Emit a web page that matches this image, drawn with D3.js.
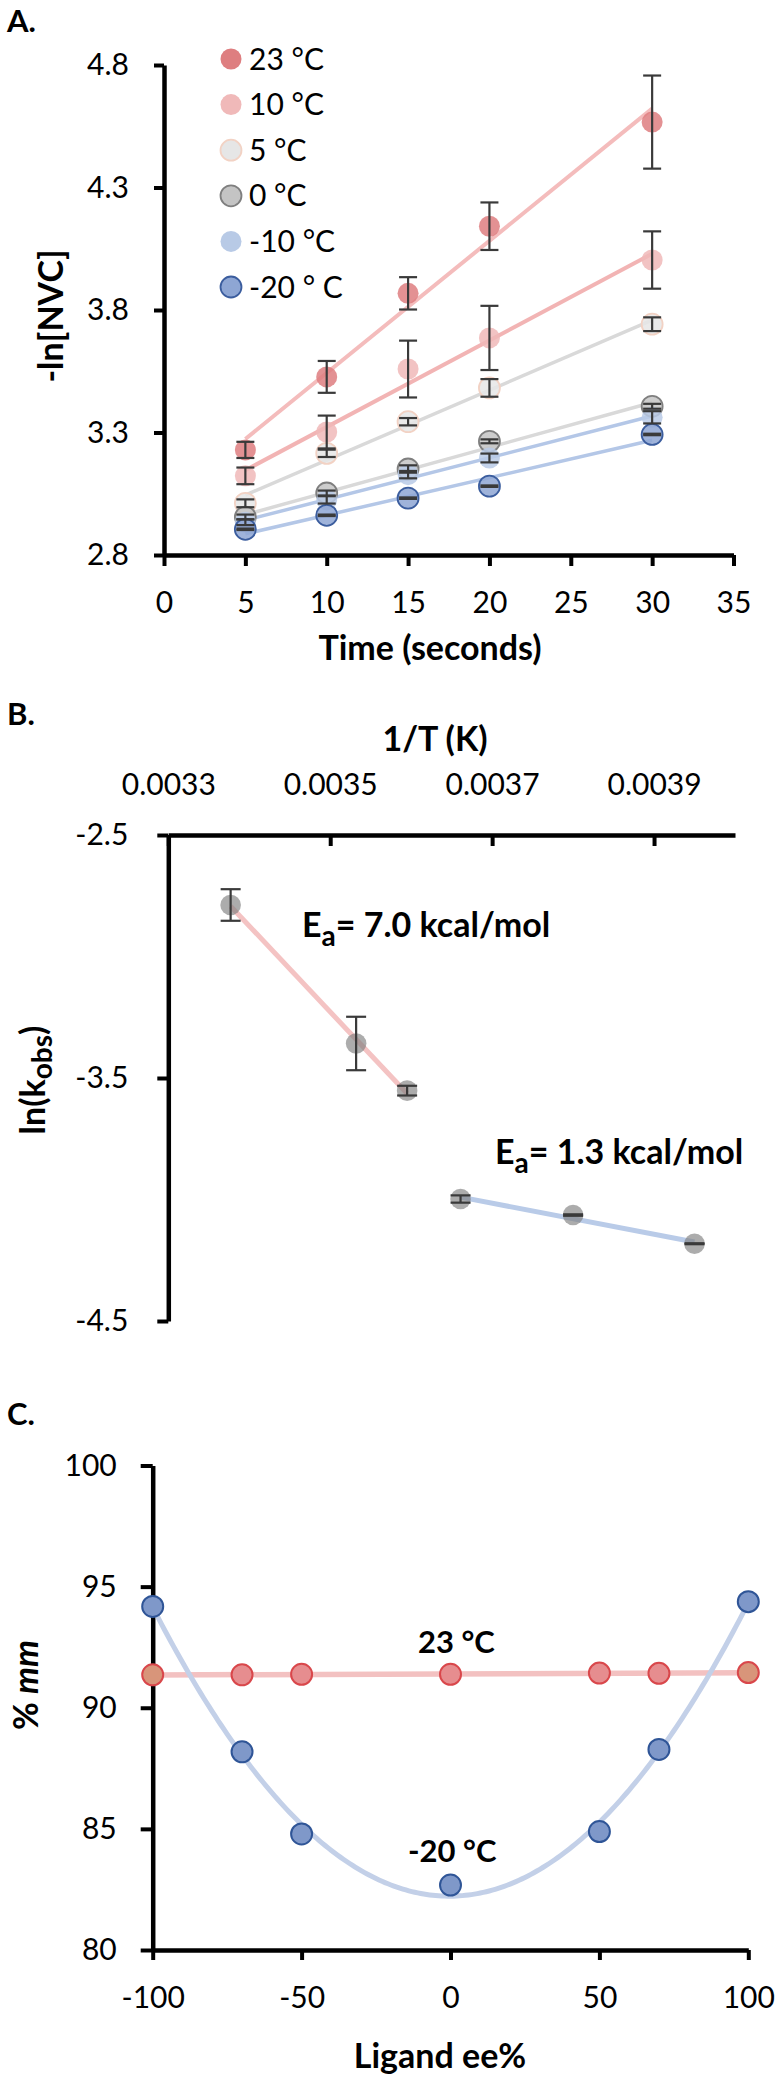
<!DOCTYPE html>
<html>
<head>
<meta charset="utf-8">
<script src="https://cdn.jsdelivr.net/npm/d3@7"></script>
<style>
  body { margin: 0; background: #fff; }
  svg { display: block; font-family: Lato, "Open Sans", sans-serif; }
  .axis text { font-family: Lato, "Open Sans", sans-serif; font-size: 30px; fill: #000; }
  .ttl { font-weight: bold; font-size: 34px; fill: #000; }
</style>
</head>
<body>
<div id="chart"></div>
<script>
// ---------- Panel A : -ln[NVC] vs time ----------
var timeSec = [5, 10, 15, 20, 30];
var legendA = ["23 °C", "10 °C", "5 °C", "0 °C", "-10 °C", "-20 ° C"];
var nvc23 = [3.229, 3.527, 3.868, 4.142, 4.567];
var err23 = [0.033, 0.065, 0.066, 0.097, 0.19];
var nvc10 = [3.123, 3.302, 3.559, 3.686, 4.004];
var err10 = [0.034, 0.067, 0.116, 0.131, 0.117];
var nvc5 = [3.011, 3.215, 3.344, 3.482, 3.742];
var err5 = [0.016, 0.015, 0.015, 0.036, 0.028];
var nvc0 = [2.955, 3.053, 3.151, 3.264, 3.407];
var err0 = [0.010, 0.010, 0.015, 0.008, 0.010];
var nvcM10 = [2.934, 3.025, 3.128, 3.196, 3.362];
var errM10 = [0.012, 0.015, 0.015, 0.018, 0.025];
var nvcM20 = [2.905, 2.962, 3.032, 3.081, 3.292];
var errM20 = [0.003, 0.003, 0.003, 0.003, 0.003];
var ticksAx = [0, 5, 10, 15, 20, 25, 30, 35];
var ticksAy = [2.8, 3.3, 3.8, 4.3, 4.8];

// ---------- Panel B : Arrhenius ----------
var invTHigh = [0.003377, 0.003532, 0.003595];
var lnkHigh = [-2.788, -3.358, -3.552];
var errHigh = [0.065, 0.11, 0.02];
var invTLow = [0.003661, 0.003800, 0.003950];
var lnkLow = [-3.998, -4.064, -4.182];
var errLow = [0.015, 0.003, 0.002];
var ticksBx = [0.0033, 0.0035, 0.0037, 0.0039];
var ticksBy = [-2.5, -3.5, -4.5];

// ---------- Panel C : %mm vs ligand ee ----------
var ligandEE = [-100, -70, -50, 0, 50, 70, 100];
var mm23 = [91.36, 91.36, 91.38, 91.38, 91.43, 91.42, 91.45];
var mmM20 = [94.18, 88.18, 84.79, 82.68, 84.89, 88.28, 94.38];
var ticksCx = [-100, -50, 0, 50, 100];
var ticksCy = [80, 85, 90, 95, 100];

var width = 781, height = 2085;
var svg = d3.select("#chart").append("svg")
    .attr("width", width)
    .attr("height", height);

function styleAxis(g) {
    g.attr("class", "axis").attr("font-family", null).attr("font-size", null);
    g.select(".domain").attr("stroke-width", 4.5);
    g.selectAll(".tick line").attr("stroke-width", 4);
}

function linFit(xs, ys) {
    var mx = d3.mean(xs), my = d3.mean(ys), sxy = 0, sxx = 0;
    xs.forEach(function(x, i) { sxy += (x - mx) * (ys[i] - my); sxx += (x - mx) * (x - mx); });
    var b = sxy / sxx;
    return function(x) { return my + b * (x - mx); };
}

function quadFit(xs, ys) {
    var S = function(k) { return d3.sum(xs, function(x) { return Math.pow(x, k); }); };
    var T = function(k) { return d3.sum(xs.map(function(x, i) { return Math.pow(x, k) * ys[i]; })); };
    var M = [[S(0), S(1), S(2), T(0)], [S(1), S(2), S(3), T(1)], [S(2), S(3), S(4), T(2)]];
    for (var c = 0; c < 3; c++) {
        for (var r = c + 1; r < 3; r++) {
            var f = M[r][c] / M[c][c];
            for (var k = c; k < 4; k++) M[r][k] -= f * M[c][k];
        }
    }
    var co = [0, 0, 0];
    for (var i = 2; i >= 0; i--) {
        var s = M[i][3];
        for (var j = i + 1; j < 3; j++) s -= M[i][j] * co[j];
        co[i] = s / M[i][i];
    }
    return function(x) { return co[0] + co[1] * x + co[2] * x * x; };
}

function errorBars(g, pts, x, y, cap) {
    var eb = g.append("g").attr("stroke", "#3a3a3a").attr("stroke-width", 2.2);
    pts.forEach(function(p) {
        var y0 = y(p.v - p.e), y1 = y(p.v + p.e), cx = x(p.x);
        eb.append("line").attr("x1", cx).attr("x2", cx).attr("y1", y0).attr("y2", y1);
        eb.append("line").attr("x1", cx - cap / 2).attr("x2", cx + cap / 2).attr("y1", y0).attr("y2", y0);
        eb.append("line").attr("x1", cx - cap / 2).attr("x2", cx + cap / 2).attr("y1", y1).attr("y2", y1);
    });
}

// ================= Panel A =================
var xA = d3.scaleLinear().domain([0, 35]).range([164, 733.5]);
var yA = d3.scaleLinear().domain([2.8, 4.8]).range([555, 65]);

var seriesA = [
    {label: legendA[0], y: nvc23, err: err23, fill: "#de7e80", stroke: "none", line: "#f4bcbc", lw: 4},
    {label: legendA[1], y: nvc10, err: err10, fill: "#f0b9b9", stroke: "none", line: "#f2b4b4", lw: 4},
    {label: legendA[2], y: nvc5, err: err5, fill: "#e6e6e6", stroke: "#f2d2c4", line: "#d9d9d9", lw: 3.5},
    {label: legendA[3], y: nvc0, err: err0, fill: "#c4c4c4", stroke: "#7f7f7f", line: "#d9d9d9", lw: 3.5},
    {label: legendA[4], y: nvcM10, err: errM10, fill: "#b8cae6", stroke: "none", line: "#b4c7e7", lw: 3.5},
    {label: legendA[5], y: nvcM20, err: errM20, fill: "#8ea6d4", stroke: "#3b5d9e", line: "#b4c7e7", lw: 3.5}
];

var gA = svg.append("g");

gA.append("g")
    .attr("transform", "translate(0," + yA(2.8) + ")")
    .call(d3.axisBottom(xA).tickValues(ticksAx).tickSizeInner(11).tickSizeOuter(0).tickPadding(26))
    .call(styleAxis);
gA.append("g")
    .attr("transform", "translate(" + xA(0) + ",0)")
    .call(d3.axisLeft(yA).tickValues(ticksAy).tickFormat(function(d) { return d.toFixed(1); })
        .tickSizeInner(10).tickSizeOuter(0).tickPadding(25))
    .call(styleAxis);

// trend lines
seriesA.forEach(function(s) {
    var fit = linFit(timeSec, s.y);
    var x0 = d3.min(timeSec), x1 = d3.max(timeSec);
    gA.append("line")
        .attr("x1", xA(x0)).attr("y1", yA(fit(x0)))
        .attr("x2", xA(x1)).attr("y2", yA(fit(x1)))
        .attr("stroke", s.line).attr("stroke-width", s.lw);
});

// markers
seriesA.forEach(function(s) {
    gA.append("g").selectAll("circle")
        .data(timeSec)
        .enter()
        .append("circle")
        .attr("cx", function(d) { return xA(d); })
        .attr("cy", function(d, i) { return yA(s.y[i]); })
        .attr("r", 10.5)
        .attr("fill", s.fill)
        .attr("fill-opacity", 0.85)
        .attr("stroke", s.stroke)
        .attr("stroke-width", 1.8);
});

seriesA.forEach(function(s) {
    errorBars(gA, timeSec.map(function(t, i) { return {x: t, v: s.y[i], e: s.err[i]}; }), xA, yA, 18);
});

// legend
seriesA.forEach(function(s, i) {
    var ry = 59 + i * 45.6;
    gA.append("circle").attr("cx", 231).attr("cy", ry).attr("r", 10.5)
        .attr("fill", s.fill).attr("stroke", s.stroke).attr("stroke-width", 1.8);
    gA.append("text").attr("x", 249).attr("y", ry + 10.5)
        .style("font-size", "30px").text(s.label);
});

gA.append("text").attr("class", "ttl").attr("x", 7).attr("y", 32).style("font-size", "31px").text("A.");
gA.append("text").attr("class", "ttl").attr("text-anchor", "middle")
    .attr("x", 430).attr("y", 660).text("Time (seconds)");
gA.append("text").attr("class", "ttl").attr("text-anchor", "middle")
    .attr("transform", "translate(63,316) rotate(-90)").text("-ln[NVC]");

// ================= Panel B =================
var xB = d3.scaleLinear().domain([0.0033, 0.0040]).range([168.3, 735]);
var yB = d3.scaleLinear().domain([-4.5, -2.5]).range([1321, 835]);
var gB = svg.append("g");

gB.append("g")
    .attr("transform", "translate(0," + yB(-2.5) + ")")
    .call(d3.axisTop(xB).tickValues(ticksBx).tickFormat(function(d) { return d.toFixed(4); })
        .tickSizeInner(-11).tickSizeOuter(0).tickPadding(40))
    .call(styleAxis);
gB.append("g")
    .attr("transform", "translate(" + xB(0.0033) + ",0)")
    .call(d3.axisLeft(yB).tickValues(ticksBy).tickFormat(function(d) { return d.toFixed(1); })
        .tickSizeInner(11).tickSizeOuter(0).tickPadding(29))
    .call(styleAxis);

var fitHigh = linFit(invTHigh, lnkHigh);
var fitLow = linFit(invTLow, lnkLow);
[[invTHigh, fitHigh, "#f4c3c3"], [invTLow, fitLow, "#b9cbe8"]].forEach(function(f) {
    var x0 = d3.min(f[0]), x1 = d3.max(f[0]);
    gB.append("line")
        .attr("x1", xB(x0)).attr("y1", yB(f[1](x0)))
        .attr("x2", xB(x1)).attr("y2", yB(f[1](x1)))
        .attr("stroke", f[2]).attr("stroke-width", 5);
});

var ptsB = invTHigh.map(function(x, i) { return {x: x, v: lnkHigh[i], e: errHigh[i]}; })
    .concat(invTLow.map(function(x, i) { return {x: x, v: lnkLow[i], e: errLow[i]}; }));

gB.append("g").selectAll("circle")
    .data(ptsB)
    .enter()
    .append("circle")
    .attr("cx", function(d) { return xB(d.x); })
    .attr("cy", function(d) { return yB(d.v); })
    .attr("r", 10.3)
    .attr("fill", "#7f7f7f")
    .attr("fill-opacity", 0.65);
errorBars(gB, ptsB, xB, yB, 20);

function eaLabel(x, y, val) {
    var t = gB.append("text").attr("class", "ttl").attr("x", x).attr("y", y).style("font-size", "34px");
    t.append("tspan").text("E");
    t.append("tspan").attr("dy", 9).style("font-size", "28px").text("a");
    t.append("tspan").attr("dy", -9).text("= " + val + " kcal/mol");
}
eaLabel(302, 937, "7.0");
eaLabel(495, 1164, "1.3");

gB.append("text").attr("class", "ttl").attr("x", 7).attr("y", 725).style("font-size", "31px").text("B.");
gB.append("text").attr("class", "ttl").attr("text-anchor", "middle")
    .attr("x", 435).attr("y", 751).text("1/T (K)");
var ylB = gB.append("text").attr("class", "ttl").attr("text-anchor", "middle")
    .attr("transform", "translate(45,1080) rotate(-90)");
ylB.append("tspan").text("ln(k");
ylB.append("tspan").attr("dy", 7).style("font-size", "28px").text("obs");
ylB.append("tspan").attr("dy", -7).text(")");

// ================= Panel C =================
var xC = d3.scaleLinear().domain([-100, 100]).range([152.7, 748.3]);
var yC = d3.scaleLinear().domain([80, 100]).range([1950, 1465.5]);
var gC = svg.append("g");

gC.append("g")
    .attr("transform", "translate(0," + yC(80) + ")")
    .call(d3.axisBottom(xC).tickValues(ticksCx).tickFormat(function(d) { return String(d); })
        .tickSizeInner(10).tickSizeOuter(0).tickPadding(27))
    .call(styleAxis);
gC.append("g")
    .attr("transform", "translate(" + xC(-100) + ",0)")
    .call(d3.axisLeft(yC).tickValues(ticksCy).tickSizeInner(12).tickSizeOuter(0).tickPadding(24))
    .call(styleAxis);

var fit23 = linFit(ligandEE, mm23);
gC.append("line")
    .attr("x1", xC(-100)).attr("y1", yC(fit23(-100)))
    .attr("x2", xC(100)).attr("y2", yC(fit23(100)))
    .attr("stroke", "#f3c1c1").attr("stroke-width", 5.5);

var fitM20 = quadFit(ligandEE, mmM20);
var curve = d3.range(-100, 100.5, 1);
gC.append("path")
    .datum(curve)
    .attr("fill", "none")
    .attr("stroke", "#c3d0e8")
    .attr("stroke-width", 5)
    .attr("d", d3.line().x(function(d) { return xC(d); }).y(function(d) { return yC(fitM20(d)); }));

gC.append("g").selectAll("circle")
    .data(ligandEE)
    .enter()
    .append("circle")
    .attr("cx", function(d) { return xC(d); })
    .attr("cy", function(d, i) { return yC(mm23[i]); })
    .attr("r", 10.5)
    .attr("fill", function(d) { return Math.abs(d) === 100 ? "#d8957a" : "#e68d8f"; })
    .attr("stroke", "#d9474b")
    .attr("stroke-width", 2);

gC.append("g").selectAll("circle")
    .data(ligandEE)
    .enter()
    .append("circle")
    .attr("cx", function(d) { return xC(d); })
    .attr("cy", function(d, i) { return yC(mmM20[i]); })
    .attr("r", 10.5)
    .attr("fill", "#7f98c9")
    .attr("stroke", "#2f5597")
    .attr("stroke-width", 2);

gC.append("text").attr("class", "ttl").attr("x", 418).attr("y", 1653).style("font-size", "31px").text("23 °C");
gC.append("text").attr("class", "ttl").attr("x", 408).attr("y", 1862).style("font-size", "31px").text("-20 °C");

gC.append("text").attr("class", "ttl").attr("x", 7).attr("y", 1425).style("font-size", "31px").text("C.");
gC.append("text").attr("class", "ttl").attr("text-anchor", "middle")
    .attr("x", 440).attr("y", 2068).text("Ligand ee%");
var ylC = gC.append("text").attr("class", "ttl").attr("text-anchor", "middle")
    .attr("transform", "translate(38,1685) rotate(-90)");
ylC.append("tspan").text("% ");
ylC.append("tspan").style("font-style", "italic").text("mm");
</script>
</body>
</html>
